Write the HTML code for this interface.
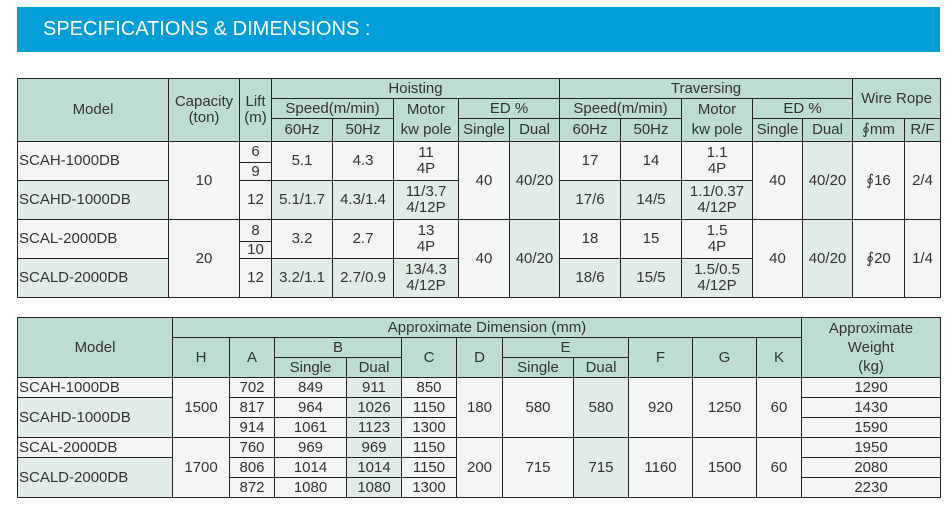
<!DOCTYPE html>
<html><head><meta charset="utf-8"><style>
body{margin:0;width:951px;height:511px;background:#fff;position:relative;overflow:hidden;font-family:"Liberation Sans","DejaVu Sans",sans-serif;}
.b{position:absolute;left:17px;top:7px;width:923px;height:45px;background:#039dd8;color:#fff;font-size:20px;line-height:45px;padding-left:26px;box-sizing:border-box;}
.c{position:absolute;box-sizing:border-box;border:1px solid #222;display:flex;align-items:center;justify-content:center;text-align:center;font-size:15px;line-height:16px;color:#333;white-space:nowrap;}
.h{background:#bfdcd4;}
.l{background:#f4f6f5;}
.g{background:#e2ece6;}
.m{justify-content:flex-start;padding-left:1px;}
</style></head><body>
<div class="b">SPECIFICATIONS &amp; DIMENSIONS :</div>

<!-- table 1 header -->
<div class="c h" style="left:17px;top:78px;width:152px;height:64px">Model</div>
<div class="c h" style="left:168px;top:78px;width:72px;height:64px">Capacity<br>(ton)</div>
<div class="c h" style="left:239px;top:78px;width:33px;height:64px">Lift<br>(m)</div>
<div class="c h" style="left:271px;top:78px;width:289px;height:21px">Hoisting</div>
<div class="c h" style="left:271px;top:98px;width:123px;height:21px">Speed(m/min)</div>
<div class="c h" style="left:271px;top:118px;width:62px;height:24px">60Hz</div>
<div class="c h" style="left:332px;top:118px;width:62px;height:24px">50Hz</div>
<div class="c h" style="left:393px;top:98px;width:66px;height:44px;line-height:20px">Motor<br>kw pole</div>
<div class="c h" style="left:458px;top:98px;width:102px;height:21px">ED %</div>
<div class="c h" style="left:458px;top:118px;width:52px;height:24px">Single</div>
<div class="c h" style="left:509px;top:118px;width:51px;height:24px">Dual</div>
<div class="c h" style="left:559px;top:78px;width:294px;height:21px">Traversing</div>
<div class="c h" style="left:559px;top:98px;width:123px;height:21px">Speed(m/min)</div>
<div class="c h" style="left:559px;top:118px;width:62px;height:24px">60Hz</div>
<div class="c h" style="left:620px;top:118px;width:62px;height:24px">50Hz</div>
<div class="c h" style="left:681px;top:98px;width:72px;height:44px;line-height:20px">Motor<br>kw pole</div>
<div class="c h" style="left:752px;top:98px;width:101px;height:21px">ED %</div>
<div class="c h" style="left:752px;top:118px;width:51px;height:24px">Single</div>
<div class="c h" style="left:802px;top:118px;width:51px;height:24px">Dual</div>
<div class="c h" style="left:852px;top:78px;width:89px;height:41px">Wire Rope</div>
<div class="c h" style="left:852px;top:118px;width:53px;height:24px">∮mm</div>
<div class="c h" style="left:904px;top:118px;width:37px;height:24px">R/F</div>

<!-- table 1 group 1 -->
<div class="c l m" style="left:17px;top:141px;width:152px;height:40px">SCAH-1000DB</div>
<div class="c g m" style="left:17px;top:180px;width:152px;height:40px">SCAHD-1000DB</div>
<div class="c l" style="left:168px;top:141px;width:72px;height:79px">10</div>
<div class="c l" style="left:239px;top:141px;width:33px;height:22px">6</div>
<div class="c l" style="left:239px;top:162px;width:33px;height:19px">9</div>
<div class="c l" style="left:239px;top:180px;width:33px;height:40px">12</div>
<div class="c l" style="left:271px;top:141px;width:62px;height:40px">5.1</div>
<div class="c l" style="left:332px;top:141px;width:62px;height:40px">4.3</div>
<div class="c l" style="left:393px;top:141px;width:66px;height:40px">11<br>4P</div>
<div class="c g" style="left:271px;top:180px;width:62px;height:40px">5.1/1.7</div>
<div class="c g" style="left:332px;top:180px;width:62px;height:40px">4.3/1.4</div>
<div class="c g" style="left:393px;top:180px;width:66px;height:40px">11/3.7<br>4/12P</div>
<div class="c l" style="left:458px;top:141px;width:52px;height:79px">40</div>
<div class="c g" style="left:509px;top:141px;width:51px;height:79px">40/20</div>
<div class="c l" style="left:559px;top:141px;width:62px;height:40px">17</div>
<div class="c l" style="left:620px;top:141px;width:62px;height:40px">14</div>
<div class="c l" style="left:681px;top:141px;width:72px;height:40px">1.1<br>4P</div>
<div class="c g" style="left:559px;top:180px;width:62px;height:40px">17/6</div>
<div class="c g" style="left:620px;top:180px;width:62px;height:40px">14/5</div>
<div class="c g" style="left:681px;top:180px;width:72px;height:40px">1.1/0.37<br>4/12P</div>
<div class="c l" style="left:752px;top:141px;width:51px;height:79px">40</div>
<div class="c g" style="left:802px;top:141px;width:51px;height:79px">40/20</div>
<div class="c l" style="left:852px;top:141px;width:53px;height:79px">∮16</div>
<div class="c l" style="left:904px;top:141px;width:37px;height:79px">2/4</div>

<!-- table 1 group 2 -->
<div class="c l m" style="left:17px;top:219px;width:152px;height:40px">SCAL-2000DB</div>
<div class="c g m" style="left:17px;top:258px;width:152px;height:40px">SCALD-2000DB</div>
<div class="c l" style="left:168px;top:219px;width:72px;height:79px">20</div>
<div class="c l" style="left:239px;top:219px;width:33px;height:23px">8</div>
<div class="c l" style="left:239px;top:241px;width:33px;height:18px">10</div>
<div class="c l" style="left:239px;top:258px;width:33px;height:40px">12</div>
<div class="c l" style="left:271px;top:219px;width:62px;height:40px">3.2</div>
<div class="c l" style="left:332px;top:219px;width:62px;height:40px">2.7</div>
<div class="c l" style="left:393px;top:219px;width:66px;height:40px">13<br>4P</div>
<div class="c g" style="left:271px;top:258px;width:62px;height:40px">3.2/1.1</div>
<div class="c g" style="left:332px;top:258px;width:62px;height:40px">2.7/0.9</div>
<div class="c g" style="left:393px;top:258px;width:66px;height:40px">13/4.3<br>4/12P</div>
<div class="c l" style="left:458px;top:219px;width:52px;height:79px">40</div>
<div class="c g" style="left:509px;top:219px;width:51px;height:79px">40/20</div>
<div class="c l" style="left:559px;top:219px;width:62px;height:40px">18</div>
<div class="c l" style="left:620px;top:219px;width:62px;height:40px">15</div>
<div class="c l" style="left:681px;top:219px;width:72px;height:40px">1.5<br>4P</div>
<div class="c g" style="left:559px;top:258px;width:62px;height:40px">18/6</div>
<div class="c g" style="left:620px;top:258px;width:62px;height:40px">15/5</div>
<div class="c g" style="left:681px;top:258px;width:72px;height:40px">1.5/0.5<br>4/12P</div>
<div class="c l" style="left:752px;top:219px;width:51px;height:79px">40</div>
<div class="c g" style="left:802px;top:219px;width:51px;height:79px">40/20</div>
<div class="c l" style="left:852px;top:219px;width:53px;height:79px">∮20</div>
<div class="c l" style="left:904px;top:219px;width:37px;height:79px">1/4</div>

<!-- table 2 header -->
<div class="c h" style="left:17px;top:317px;width:156px;height:61px">Model</div>
<div class="c h" style="left:172px;top:317px;width:630px;height:21px">Approximate Dimension (mm)</div>
<div class="c h" style="left:172px;top:337px;width:58px;height:41px">H</div>
<div class="c h" style="left:229px;top:337px;width:46px;height:41px">A</div>
<div class="c h" style="left:274px;top:337px;width:128px;height:21px">B</div>
<div class="c h" style="left:274px;top:357px;width:73px;height:21px">Single</div>
<div class="c h" style="left:346px;top:357px;width:56px;height:21px">Dual</div>
<div class="c h" style="left:401px;top:337px;width:56px;height:41px">C</div>
<div class="c h" style="left:456px;top:337px;width:47px;height:41px">D</div>
<div class="c h" style="left:502px;top:337px;width:127px;height:21px">E</div>
<div class="c h" style="left:502px;top:357px;width:72px;height:21px">Single</div>
<div class="c h" style="left:573px;top:357px;width:56px;height:21px">Dual</div>
<div class="c h" style="left:628px;top:337px;width:65px;height:41px">F</div>
<div class="c h" style="left:692px;top:337px;width:65px;height:41px">G</div>
<div class="c h" style="left:756px;top:337px;width:46px;height:41px">K</div>
<div class="c h" style="left:801px;top:317px;width:140px;height:61px;line-height:19px">Approximate<br>Weight<br>(kg)</div>

<!-- table 2 body -->
<div class="c l m" style="left:17px;top:377px;width:156px;height:21px">SCAH-1000DB</div>
<div class="c g m" style="left:17px;top:397px;width:156px;height:41px">SCAHD-1000DB</div>
<div class="c l m" style="left:17px;top:437px;width:156px;height:21px">SCAL-2000DB</div>
<div class="c g m" style="left:17px;top:457px;width:156px;height:41px">SCALD-2000DB</div>
<div class="c l" style="left:172px;top:377px;width:58px;height:61px">1500</div>
<div class="c l" style="left:172px;top:437px;width:58px;height:61px">1700</div>

<div class="c l" style="left:229px;top:377px;width:46px;height:21px">702</div>
<div class="c l" style="left:229px;top:397px;width:46px;height:21px">817</div>
<div class="c l" style="left:229px;top:417px;width:46px;height:21px">914</div>
<div class="c l" style="left:229px;top:437px;width:46px;height:21px">760</div>
<div class="c l" style="left:229px;top:457px;width:46px;height:21px">806</div>
<div class="c l" style="left:229px;top:477px;width:46px;height:21px">872</div>

<div class="c l" style="left:274px;top:377px;width:73px;height:21px">849</div>
<div class="c l" style="left:274px;top:397px;width:73px;height:21px">964</div>
<div class="c l" style="left:274px;top:417px;width:73px;height:21px">1061</div>
<div class="c l" style="left:274px;top:437px;width:73px;height:21px">969</div>
<div class="c l" style="left:274px;top:457px;width:73px;height:21px">1014</div>
<div class="c l" style="left:274px;top:477px;width:73px;height:21px">1080</div>

<div class="c g" style="left:346px;top:377px;width:56px;height:21px">911</div>
<div class="c g" style="left:346px;top:397px;width:56px;height:21px">1026</div>
<div class="c g" style="left:346px;top:417px;width:56px;height:21px">1123</div>
<div class="c g" style="left:346px;top:437px;width:56px;height:21px">969</div>
<div class="c g" style="left:346px;top:457px;width:56px;height:21px">1014</div>
<div class="c g" style="left:346px;top:477px;width:56px;height:21px">1080</div>

<div class="c l" style="left:401px;top:377px;width:56px;height:21px">850</div>
<div class="c l" style="left:401px;top:397px;width:56px;height:21px">1150</div>
<div class="c l" style="left:401px;top:417px;width:56px;height:21px">1300</div>
<div class="c l" style="left:401px;top:437px;width:56px;height:21px">1150</div>
<div class="c l" style="left:401px;top:457px;width:56px;height:21px">1150</div>
<div class="c l" style="left:401px;top:477px;width:56px;height:21px">1300</div>

<div class="c l" style="left:456px;top:377px;width:47px;height:61px">180</div>
<div class="c l" style="left:456px;top:437px;width:47px;height:61px">200</div>
<div class="c l" style="left:502px;top:377px;width:72px;height:61px">580</div>
<div class="c l" style="left:502px;top:437px;width:72px;height:61px">715</div>
<div class="c g" style="left:573px;top:377px;width:56px;height:61px">580</div>
<div class="c g" style="left:573px;top:437px;width:56px;height:61px">715</div>
<div class="c l" style="left:628px;top:377px;width:65px;height:61px">920</div>
<div class="c l" style="left:628px;top:437px;width:65px;height:61px">1160</div>
<div class="c l" style="left:692px;top:377px;width:65px;height:61px">1250</div>
<div class="c l" style="left:692px;top:437px;width:65px;height:61px">1500</div>
<div class="c l" style="left:756px;top:377px;width:46px;height:61px">60</div>
<div class="c l" style="left:756px;top:437px;width:46px;height:61px">60</div>

<div class="c l" style="left:801px;top:377px;width:140px;height:21px">1290</div>
<div class="c l" style="left:801px;top:397px;width:140px;height:21px">1430</div>
<div class="c l" style="left:801px;top:417px;width:140px;height:21px">1590</div>
<div class="c l" style="left:801px;top:437px;width:140px;height:21px">1950</div>
<div class="c l" style="left:801px;top:457px;width:140px;height:21px">2080</div>
<div class="c l" style="left:801px;top:477px;width:140px;height:21px">2230</div>
</body></html>
